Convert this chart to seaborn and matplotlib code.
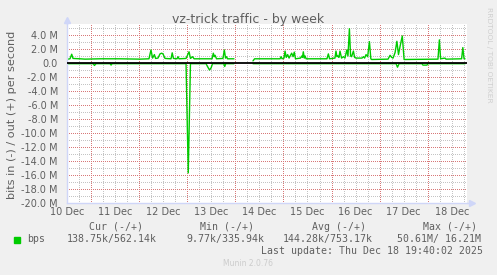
import matplotlib
matplotlib.use("Agg")
import matplotlib.pyplot as plt
import seaborn as sns
import pandas as pd
import numpy as np

# ---- data (hours since 10 Dec 00:00, values in M bits/s) ----
out_hours = [12.5, 13.5, 14.35, 15.0, 18.5, 21.0, 28.5, 38.4, 48.4, 52.9, 53.9, 54.7, 55.6, 56.2,
             57.4, 58.4, 59.2, 59.9, 60.9, 63.9, 64.5, 65.1, 66.9, 67.4, 67.9, 71.4, 72.9, 73.6,
             74.7, 75.4, 84.4, 85.0, 85.5, 85.9, 86.6, 89.8, 90.5, 91.1, 91.6, 92.1, 95.3,
             104.8, 105.6, 118.3, 118.8, 119.3, 120.3, 120.8, 121.4, 122.1, 122.8, 124.1, 124.8,
             125.4, 126.0, 128.5, 129.1, 129.5, 129.9, 130.4, 130.8, 131.3, 141.7, 142.4, 143.0,
             145.7, 146.2, 146.7, 147.2, 147.7, 148.2, 149.0, 149.9, 150.7, 151.6, 152.2, 152.9,
             153.5, 154.0, 154.9, 155.5, 156.2, 159.2, 159.9, 160.5, 161.2, 162.0, 162.9, 163.6,
             164.0, 172.2, 173.2, 174.0, 174.7, 175.7, 176.6, 177.4, 178.2, 179.3, 180.2, 197.1,
             197.8, 198.4, 200.6, 201.1, 208.9, 209.5, 210.1, 210.6]
out_values = [0.55, 0.6, 1.25, 0.65, 0.6, 0.55, 0.6, 0.6, 0.55, 0.6, 1.86, 0.7, 1.2, 0.65,
              0.7, 1.3, 1.4, 1.3, 0.65, 0.6, 1.45, 0.65, 0.6, 0.9, 0.6, 0.65, 1.6, 0.65,
              0.9, 0.6, 0.6, 1.4, 0.9, 1.1, 0.6, 0.65, 1.86, 0.7, 0.9, 0.6, 0.6,
              0.3, 0.6, 0.6, 0.9, 0.6, 0.7, 1.7, 0.8, 1.2, 0.7, 1.4, 0.9,
              1.55, 0.6, 0.7, 1.0, 0.8, 1.6, 0.7, 1.0, 0.6, 0.6, 1.3, 0.6,
              0.7, 1.7, 0.9, 1.0, 0.8, 1.7, 0.7, 0.9, 0.7, 1.86, 1.0, 4.9,
              1.0, 0.9, 1.7, 0.8, 0.7, 0.7, 0.9, 0.7, 1.2, 0.9, 3.05, 0.6,
              0.5, 0.55, 1.1, 0.8, 0.7, 1.5, 3.1, 1.2, 2.4, 3.86, 0.5, 0.55,
              3.3, 0.6, 0.7, 0.55, 0.6, 2.2, 0.6, 0.6]

in_hours = [12.5, 25.0, 25.7, 26.5, 33.5, 34.0, 34.5, 71.4, 72.5, 73.6, 81.4, 82.1, 83.1, 83.9,
            84.6, 90.2, 90.7, 91.2, 95.3, 104.8, 176.2, 176.9, 177.7, 189.1, 189.6, 191.6,
            192.1, 210.6]
in_values = [-0.1, -0.1, -0.35, -0.1, -0.1, -0.3, -0.1, -0.1, -15.7, -0.1, -0.1, -0.5, -1.0, -0.7,
             -0.1, -0.1, -0.5, -0.1, -0.1, -0.1, -0.1, -0.6, -0.1, -0.1, -0.3, -0.3,
             -0.1, -0.1]

gap_start, gap_end = 95.3, 104.8  # no data between these hours

day_labels = ["10 Dec", "11 Dec", "12 Dec", "13 Dec", "14 Dec", "15 Dec", "16 Dec", "17 Dec", "18 Dec"]
y_major = [4, 2, 0, -2, -4, -6, -8, -10, -12, -14, -16, -18, -20]

legend_headers = ["Cur (-/+)", "Min (-/+)", "Avg (-/+)", "Max (-/+)"]
legend_values = ["138.75k/562.14k", "9.77k/335.94k", "144.28k/753.17k", "50.61M/ 16.21M"]
series_name = "bps"

# ---- style ----
sns.set_style("white")
plt.rcParams['font.family'] = ['DejaVu Sans']
plt.rcParams['axes.unicode_minus'] = False

W, H = 497, 275
BG = "#F0F0F0"
FONT = "#5f5f5f"
GREEN = "#00CC00"
AXIS = "#CFD6F8"
MINOR = "#C4C4C4"
MAJOR = "#D87878"

fig = plt.figure(figsize=(W / 100, H / 100), dpi=100, facecolor=BG)
L, R, T, B = 67, 467, 24, 203
ax = fig.add_axes([L / W, 1 - B / H, (R - L) / W, (B - T) / H])
ax.set_facecolor("white")

x0 = 12.0
x1 = 12.0 + 400 * 24 / 48.1
ax.set_xlim(x0, x1)
ax.set_ylim(-20, 5.57)

grid_kw = dict(lw=0.72, ls=(0.5, (1, 1)), zorder=0, antialiased=True)
for h in np.arange(18, x1, 6):
    if h % 24 != 0:
        ax.axvline(h, color=MINOR, **grid_kw)
for h in np.arange(24, x1, 24):
    ax.axvline(h, color=MAJOR, **grid_kw)
for v in range(-19, 6, 2):
    ax.axhline(v, color=MINOR, **grid_kw)
for v in y_major:
    if v not in (0, -20):
        ax.axhline(v, color=MAJOR, **grid_kw)

def seg_df(hours, values):
    df = pd.DataFrame({"hours": hours, "value": values})
    df["seg"] = np.where(df["hours"] <= gap_start, 0, 1)
    return df

df_out = seg_df(out_hours, out_values)
df_in = seg_df(in_hours, in_values)
for df in (df_in, df_out):
    sns.lineplot(data=df, x="hours", y="value", units="seg", estimator=None, sort=False,
                 color=GREEN, lw=1.0, ax=ax, legend=False, zorder=2)

ax.axhline(0, color="black", lw=1.3, zorder=3)

ax.set_xticks([12 + 24 * k for k in range(len(day_labels))])
ax.set_xticklabels(day_labels)
ax.set_yticks(y_major)
ax.set_yticklabels(["0.0" if v == 0 else f"{v:.1f} M" for v in y_major])
ax.tick_params(axis="both", length=0, labelsize=7, colors=FONT)
ax.tick_params(axis="y", pad=6.5)
ax.tick_params(axis="x", pad=3)
ax.set_xlabel("")
ax.set_ylabel("")

for s in ("top", "right"):
    ax.spines[s].set_visible(False)
for s in ("left", "bottom"):
    ax.spines[s].set_color(AXIS)
    ax.spines[s].set_linewidth(1.0)

ax.plot([0, 0], [1, 1.02], transform=ax.transAxes, color=AXIS, lw=1, clip_on=False)
ax.plot([0], [1.025], transform=ax.transAxes, marker="^", ms=4.5, color=AXIS, clip_on=False, mec=AXIS)
ax.plot([1, 1.01], [0, 0], transform=ax.transAxes, color=AXIS, lw=1, clip_on=False)
ax.plot([1.012], [0], transform=ax.transAxes, marker=">", ms=4.5, color=AXIS, clip_on=False, mec=AXIS)

def ftext(x, y, s, **kw):
    fig.text(x / W, 1 - y / H, s, **kw)

ftext(248.5, 19, "vz-trick traffic - by week", ha="center", va="center", fontsize=9, color=FONT)
ftext(12, 114.5, "bits in (-) / out (+) per second", ha="center", va="center",
      rotation=90, fontsize=8.1, color=FONT)
ftext(489, 55, "RRDTOOL / TOBI OETIKER", ha="center", va="center", rotation=270,
      fontsize=5.4, color="#CFCFCF")

mono = dict(family="DejaVu Sans Mono", fontsize=7.1, color=FONT, va="center", ha="left")
for xh, s in zip([89, 200, 312, 423], legend_headers):
    ftext(xh, 226.7, s, **mono)
for xv, s in zip([66.7, 186.7, 282.7, 396.7], legend_values):
    ftext(xv, 239.3, s, **mono)
ftext(26.7, 239.3, series_name, **mono)
fig.patches.append(plt.Rectangle((14 / W, 1 - 243 / H), 6 / W, 6 / H, transform=fig.transFigure,
                                 color=GREEN, figure=fig))
ftext(482.7, 251, "Last update: Thu Dec 18 19:40:02 2025", **{**mono, "ha": "right"})
ftext(247.7, 264, "Munin 2.0.76", ha="center", va="center", fontsize=5.5, color="#CCCCCC")

fig.savefig("out.png", dpi=100, facecolor=BG)
